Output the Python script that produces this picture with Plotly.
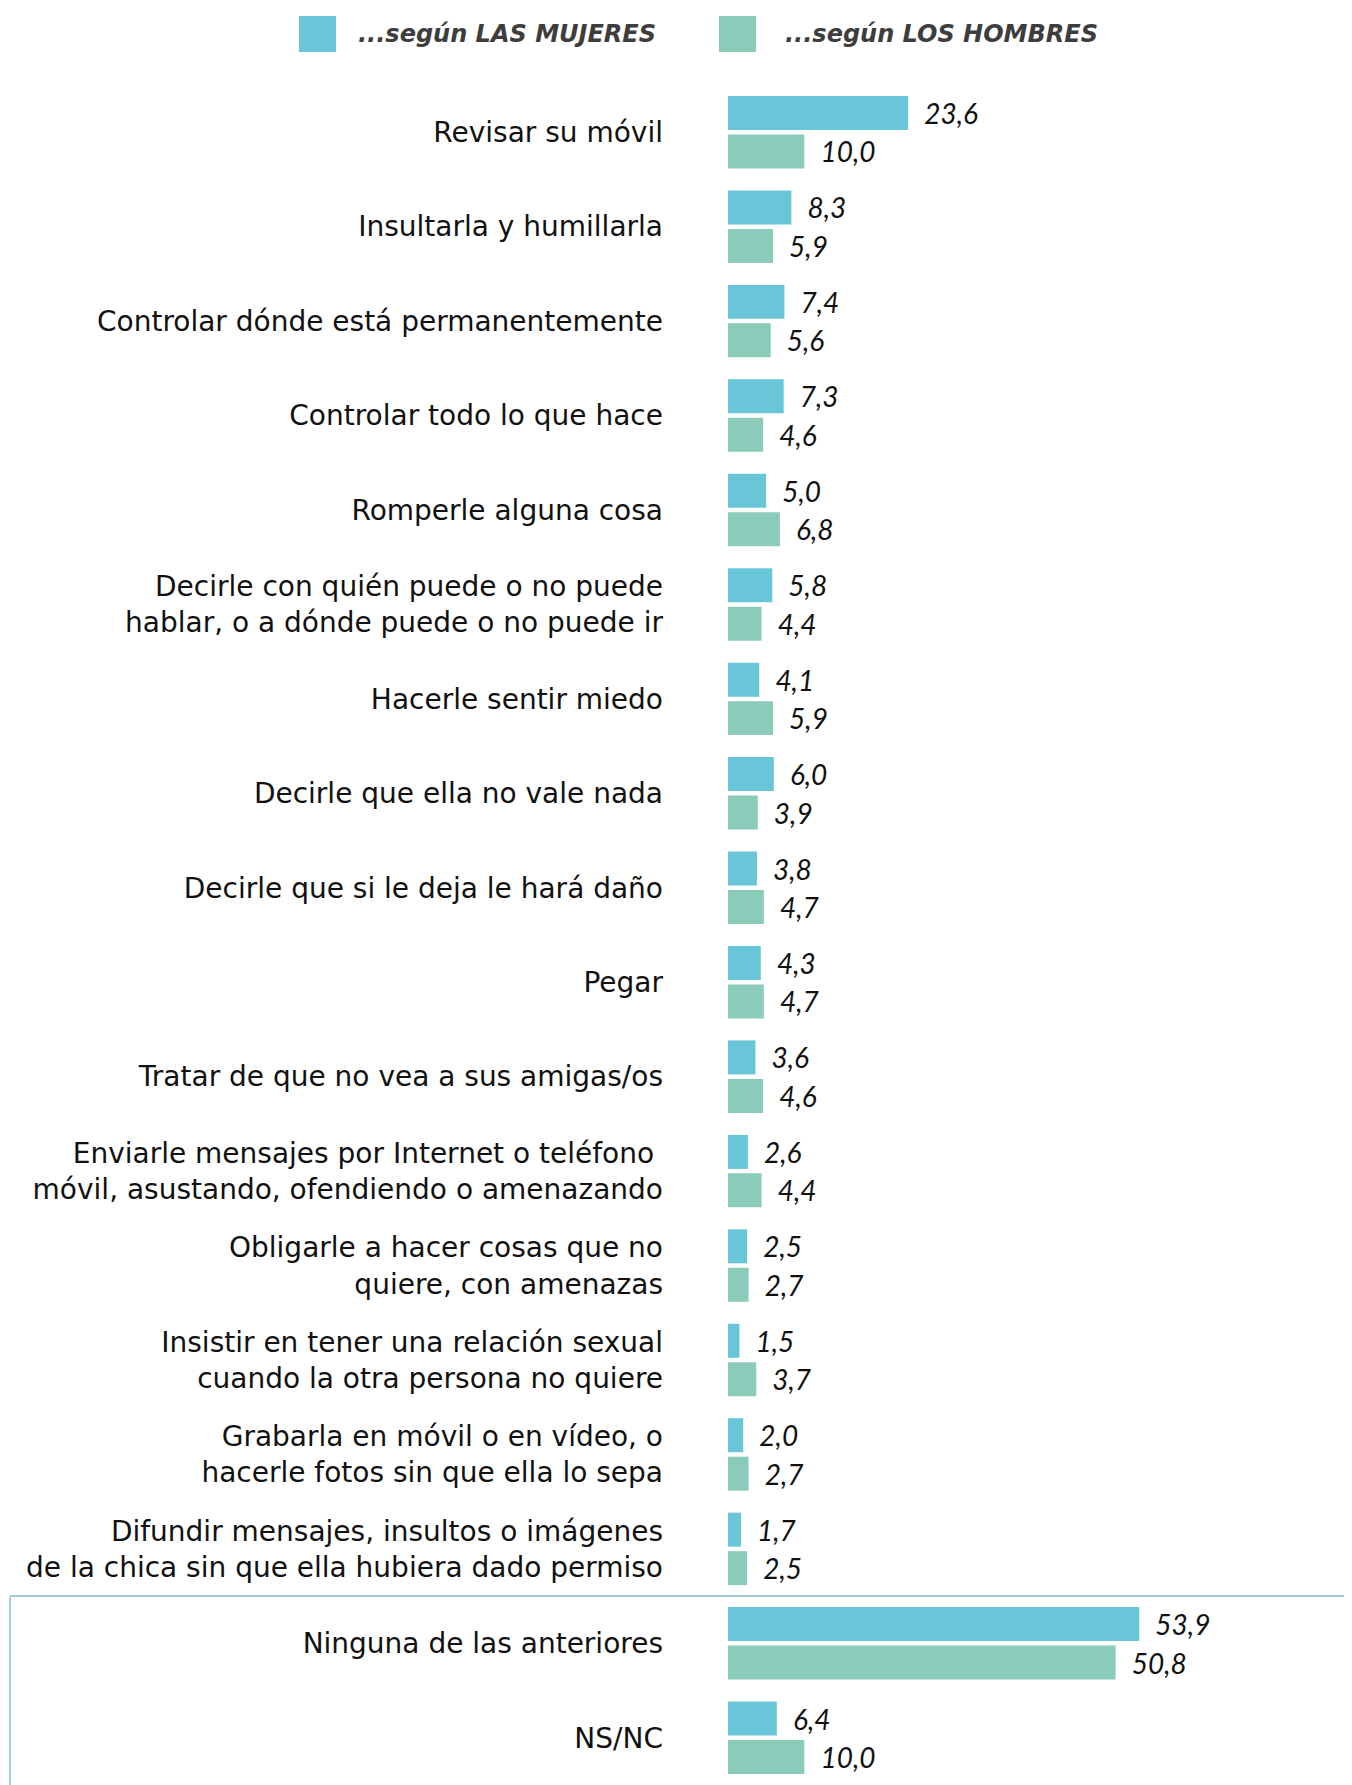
import plotly.graph_objects as go

# Datos
categorias = [
    "Revisar su móvil",
    "Insultarla y humillarla",
    "Controlar dónde está permanentemente",
    "Controlar todo lo que hace",
    "Romperle alguna cosa",
    "Decirle con quién puede o no puede<br>hablar, o a dónde puede o no puede ir",
    "Hacerle sentir miedo",
    "Decirle que ella no vale nada",
    "Decirle que si le deja le hará daño",
    "Pegar",
    "Tratar de que no vea a sus amigas/os",
    "Enviarle mensajes por Internet o teléfono <br>móvil, asustando, ofendiendo o amenazando",
    "Obligarle a hacer cosas que no<br>quiere, con amenazas",
    "Insistir en tener una relación sexual<br>cuando la otra persona no quiere",
    "Grabarla en móvil o en vídeo, o<br>hacerle fotos sin que ella lo sepa",
    "Difundir mensajes, insultos o imágenes<br>de la chica sin que ella hubiera dado permiso",
    "Ninguna de las anteriores",
    "NS/NC",
]
mujeres = [23.6, 8.3, 7.4, 7.3, 5.0, 5.8, 4.1, 6.0, 3.8, 4.3, 3.6, 2.6, 2.5, 1.5, 2.0, 1.7, 53.9, 6.4]
hombres = [10.0, 5.9, 5.6, 4.6, 6.8, 4.4, 5.9, 3.9, 4.7, 4.7, 4.6, 4.4, 2.7, 3.7, 2.7, 2.5, 50.8, 10.0]
series = ["...según LAS MUJERES", "...según LOS HOMBRES"]
colores = ["#69c6d8", "#8bcbb9"]

# la página añade 8 px de margen al div
OFF = 8
W, H = 1352 - OFF, 1785 - OFF
L, R, T, B = 728 - OFF, 0, 85 - OFF, 0
FUENTE = "DejaVu Sans"
FUENTE_NUM = "Lato"


def px_x(x):
    return (x - OFF - L) / (W - L - R)


def px_y(y):
    return (H - B - (y - OFF)) / (H - T - B)


fig = go.Figure()
for nombre, valores, color in zip(series, [mujeres, hombres], colores):
    fig.add_trace(
        go.Bar(
            y=categorias,
            x=valores,
            orientation="h",
            name=nombre,
            marker=dict(color=color, line=dict(width=0)),
            texttemplate="  %{x:.1f}",
            textposition="outside",
            constraintext="none",
            cliponaxis=False,
            textfont=dict(family=FUENTE_NUM, size=28, color="#111111", style="italic"),
            showlegend=False,
        )
    )

# Leyenda dibujada a mano (cuadrados grandes)
leyenda_x = [(299, 336, 356), (719, 756, 783)]
for (x0, x1, xt), nombre, color in zip(leyenda_x, series, colores):
    fig.add_shape(
        type="rect", xref="paper", yref="paper",
        x0=px_x(x0), x1=px_x(x1), y0=px_y(52), y1=px_y(16),
        fillcolor=color, line=dict(width=0),
    )
    fig.add_annotation(
        xref="paper", yref="paper", x=px_x(xt), y=px_y(34),
        xanchor="left", yanchor="middle", text=nombre, showarrow=False,
        font=dict(family=FUENTE, size=24, color="#3d3d3d", weight="bold", style="italic"),
    )

# Recuadro de "Ninguna" y "NS/NC"
linea = dict(color="#a3cbd9", width=2)
fig.add_shape(type="line", xref="paper", yref="y", x0=px_x(10), x1=px_x(1352), y0=15.5, y1=15.5, line=linea)
fig.add_shape(type="line", xref="paper", yref="paper", x0=px_x(10), x1=px_x(10), y0=px_y(1597), y1=0, line=linea)

fig.update_layout(
    width=W,
    height=H,
    margin=dict(l=L, r=R, t=T, b=B),
    barmode="group",
    bargap=0.185,
    bargroupgap=0.117,
    separators=",.",
    plot_bgcolor="white",
    paper_bgcolor="white",
    font=dict(family=FUENTE, size=28, color="#111111"),
)
fig.update_xaxes(range=[0, (W - L - R) / 7.63], visible=False)
fig.update_yaxes(
    autorange="reversed",
    showgrid=False,
    showline=False,
    zeroline=False,
    ticks="",
    ticklabelstandoff=64,
    tickfont=dict(family=FUENTE, size=28, color="#111111"),
)

fig.write_html("out.html")
